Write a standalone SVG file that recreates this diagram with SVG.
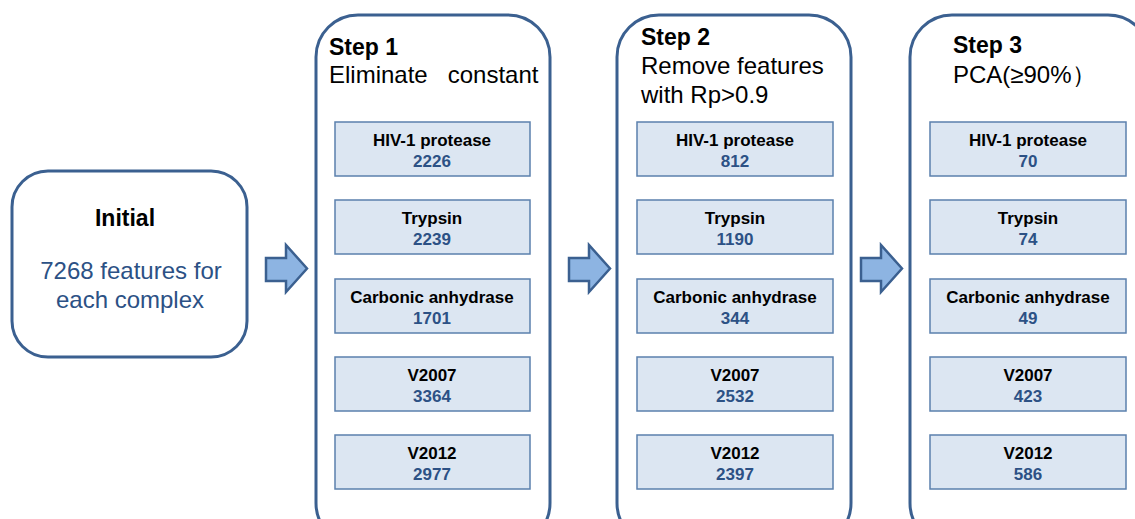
<svg xmlns="http://www.w3.org/2000/svg" width="1135" height="519" viewBox="0 0 1135 519">
<style>
.big{fill:#fff;stroke:#3b6090;stroke-width:3}
.in{fill:#dce6f2;stroke:#5b80ad;stroke-width:1.5}
.arr{fill:#8db4e2;stroke:#3b6090;stroke-width:2.5;stroke-linejoin:miter}
text{font-family:"Liberation Sans",Arial,sans-serif}
.h{font-size:23px;font-weight:bold;fill:#000}
.s{font-size:24px;fill:#000}
.n{font-size:17px;font-weight:bold;fill:#000;text-anchor:middle}
.v{font-size:17px;font-weight:bold;fill:#2c5185;text-anchor:middle}
.b{font-size:24px;fill:#2c5185;text-anchor:middle}
</style>
<rect width="1135" height="519" fill="#fff"/>
<g id="initial">
<rect class="big" x="12" y="171" width="235" height="186" rx="36"/>
<text class="h" x="125" y="226" text-anchor="middle">Initial</text>
<text class="b" x="131" y="279">7268 features for</text>
<text class="b" x="130" y="308">each complex</text>
</g>
<g id="connectors">
<path class="arr" d="M266,258 H286 V245 L307,268.5 L286,292 V281 H266 Z"/>
<path class="arr" d="M569,258 H589 V245 L610,268.5 L589,292 V281 H569 Z"/>
<path class="arr" d="M861,258 H881 V245 L902,268.5 L881,292 V281 H861 Z"/>
</g>
<g id="step1">
<rect class="big" x="316" y="15" width="234" height="530" rx="42"/>
<text class="h" x="329" y="55">Step 1</text>
<text class="s" x="329" y="83" xml:space="preserve">Eliminate   constant</text>
</g>
<g id="step1-hiv"><rect class="in" x="335" y="122" width="195" height="54"/><text class="n" x="432" y="146">HIV-1 protease</text><text class="v" x="432" y="167">2226</text></g>
<g id="step1-trypsin"><rect class="in" x="335" y="200" width="195" height="54"/><text class="n" x="432" y="224">Trypsin</text><text class="v" x="432" y="245">2239</text></g>
<g id="step1-ca"><rect class="in" x="335" y="279" width="195" height="54"/><text class="n" x="432" y="303">Carbonic anhydrase</text><text class="v" x="432" y="324">1701</text></g>
<g id="step1-v2007"><rect class="in" x="335" y="357" width="195" height="54"/><text class="n" x="432" y="381">V2007</text><text class="v" x="432" y="402">3364</text></g>
<g id="step1-v2012"><rect class="in" x="335" y="435" width="195" height="54"/><text class="n" x="432" y="459">V2012</text><text class="v" x="432" y="480">2977</text></g>
<g id="step2">
<rect class="big" x="617" y="15" width="234" height="530" rx="42"/>
<text class="h" x="641" y="45">Step 2</text>
<text class="s" x="641" y="74">Remove features</text>
<text class="s" x="641" y="103">with Rp&gt;0.9</text>
</g>
<g id="step2-hiv"><rect class="in" x="637" y="122" width="196" height="54"/><text class="n" x="735" y="146">HIV-1 protease</text><text class="v" x="735" y="167">812</text></g>
<g id="step2-trypsin"><rect class="in" x="637" y="200" width="196" height="54"/><text class="n" x="735" y="224">Trypsin</text><text class="v" x="735" y="245">1190</text></g>
<g id="step2-ca"><rect class="in" x="637" y="279" width="196" height="54"/><text class="n" x="735" y="303">Carbonic anhydrase</text><text class="v" x="735" y="324">344</text></g>
<g id="step2-v2007"><rect class="in" x="637" y="357" width="196" height="54"/><text class="n" x="735" y="381">V2007</text><text class="v" x="735" y="402">2532</text></g>
<g id="step2-v2012"><rect class="in" x="637" y="435" width="196" height="54"/><text class="n" x="735" y="459">V2012</text><text class="v" x="735" y="480">2397</text></g>
<g id="step3">
<rect class="big" x="910" y="15" width="240" height="530" rx="42"/>
<text class="h" x="953" y="53">Step 3</text>
<text class="s" x="953" y="83">PCA(≥90%）</text>
</g>
<g id="step3-hiv"><rect class="in" x="930" y="122" width="196" height="54"/><text class="n" x="1028" y="146">HIV-1 protease</text><text class="v" x="1028" y="167">70</text></g>
<g id="step3-trypsin"><rect class="in" x="930" y="200" width="196" height="54"/><text class="n" x="1028" y="224">Trypsin</text><text class="v" x="1028" y="245">74</text></g>
<g id="step3-ca"><rect class="in" x="930" y="279" width="196" height="54"/><text class="n" x="1028" y="303">Carbonic anhydrase</text><text class="v" x="1028" y="324">49</text></g>
<g id="step3-v2007"><rect class="in" x="930" y="357" width="196" height="54"/><text class="n" x="1028" y="381">V2007</text><text class="v" x="1028" y="402">423</text></g>
<g id="step3-v2012"><rect class="in" x="930" y="435" width="196" height="54"/><text class="n" x="1028" y="459">V2012</text><text class="v" x="1028" y="480">586</text></g>
</svg>
